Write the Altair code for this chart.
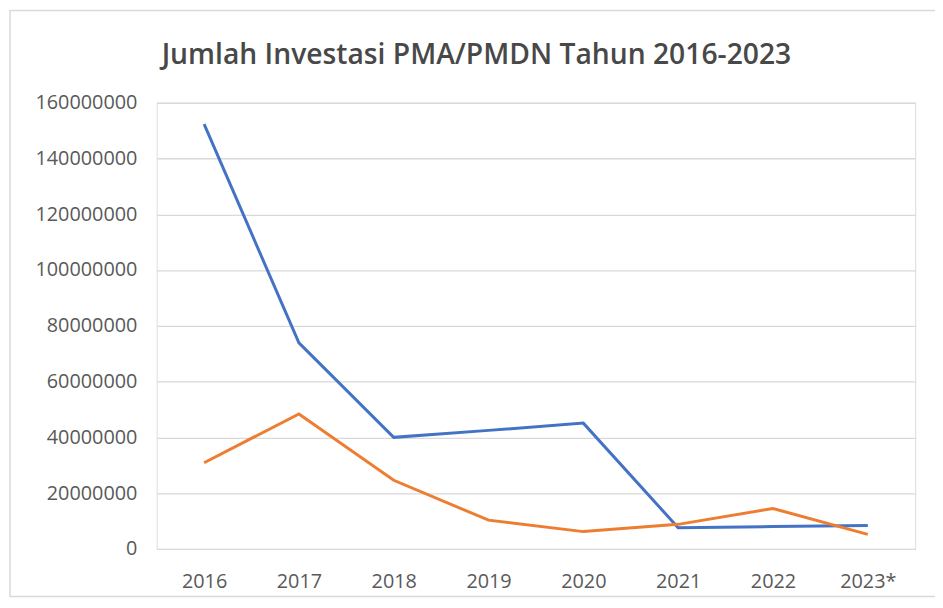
import altair as alt
import pandas as pd

years = ["2016", "2017", "2018", "2019", "2020", "2021", "2022", "2023*"]
series_blue = [152300000, 73900000, 40000000, 42500000, 45100000, 7600000, 8000000, 8400000]
series_orange = [30900000, 48400000, 24600000, 10300000, 6200000, 8800000, 14500000, 5200000]
series_names = ["Seri 1", "Seri 2"]
colors = ["#4472C4", "#ED7D31"]
title_text = "Jumlah Investasi PMA/PMDN Tahun 2016-2023"

rows = []
for name, vals in zip(series_names, [series_blue, series_orange]):
    for y, v in zip(years, vals):
        rows.append({"Tahun": y, "Nilai": v, "Seri": name})
df = pd.DataFrame(rows)

W, H = 765, 450
FONT = "Open Sans"

single = pd.DataFrame({"t": [title_text]})

frame = alt.Chart(single).mark_rect(
    fill="white", fillOpacity=0, stroke="#d9d9d9", strokeWidth=1.5
).encode(
    x=alt.value(-148), x2=alt.value(W + 24),
    y=alt.value(-93), y2=alt.value(H + 48)
)

title = alt.Chart(single).mark_text(
    font=FONT, fontSize=28.5, fontWeight=600, color="#484848",
    align="center", baseline="alphabetic"
).encode(
    text="t:N", x=alt.value(W / 2 - 60), y=alt.value(-39)
)

lines = alt.Chart(df).mark_line(strokeWidth=3).encode(
    x=alt.X("Tahun:O", sort=years, title=None,
            scale=alt.Scale(type="point", padding=0.5),
            axis=alt.Axis(labelAngle=0, domain=False, ticks=False, grid=False,
                          labelPadding=23, labelFont=FONT, labelFontSize=20,
                          labelColor="#595959")),
    y=alt.Y("Nilai:Q", title=None,
            scale=alt.Scale(domain=[0, 160000000], nice=False),
            axis=alt.Axis(values=list(range(0, 160000001, 20000000)), format="d",
                          domain=False, ticks=False, gridColor="#d9d9d9",
                          gridWidth=1.3, labelPadding=20, labelFont=FONT,
                          labelFontSize=20, labelColor="#595959")),
    color=alt.Color("Seri:N", scale=alt.Scale(domain=series_names, range=colors),
                    legend=None),
)

chart = alt.layer(lines, frame, title).properties(
    width=W, height=H,
    autosize=alt.AutoSizeParams(type="none"),
    padding={"left": 150, "top": 93, "right": 20, "bottom": 50},
).configure_view(stroke=None).configure(background="white")

chart.save("out.html", embed_options={"renderer": "svg", "actions": False})
